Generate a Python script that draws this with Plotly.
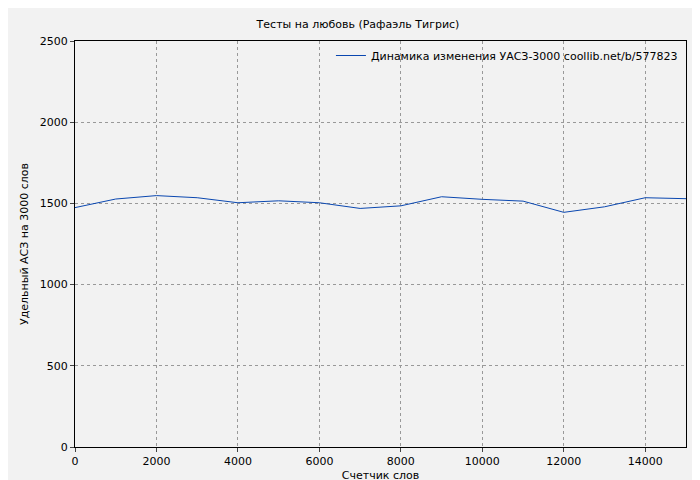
import plotly.graph_objects as go

words = [0,1000,2000,3000,4000,5000,6000,7000,8000,9000,10000,11000,12000,13000,14000,15000]
uasz = [1474,1527,1548,1535,1504,1516,1504,1469,1485,1541,1525,1514,1445,1479,1535,1529]

fig = go.Figure(go.Scatter(x=words, y=uasz, mode="lines", line=dict(color="#0a47b0", width=1),
                           name="Динамика изменения УАСЗ-3000 coollib.net/b/577823"))
ax = dict(showgrid=True, gridcolor="#999", griddash="dot", gridwidth=1, zeroline=False,
          showline=True, linecolor="black", mirror=True, ticks="outside", ticklen=4,
          tickfont=dict(size=11, color="black"), tickformat="d", automargin=False)
fig.update_layout(
    width=700, height=480, paper_bgcolor="#f2f2f2", plot_bgcolor="#f2f2f2",
    font=dict(family="DejaVu Sans", size=11, color="black"),
    title=dict(text="Тесты на любовь (Рафаэль Тигрис)", x=0.5, y=0.975, font=dict(size=11)),
    margin=dict(l=67, r=22, t=33, b=41),
    xaxis=dict(ax, range=[0,15000], dtick=2000,
               title=dict(text="Счетчик слов", standoff=4, font=dict(size=11))),
    yaxis=dict(ax, range=[0,2500], dtick=500,
               title=dict(text="Удельный АСЗ на 3000 слов", standoff=8, font=dict(size=11))),
    showlegend=True,
    legend=dict(x=0.995, y=1.0, xanchor="right", yanchor="top", bgcolor="rgba(0,0,0,0)"),
)
fig.write_html("out.html")
